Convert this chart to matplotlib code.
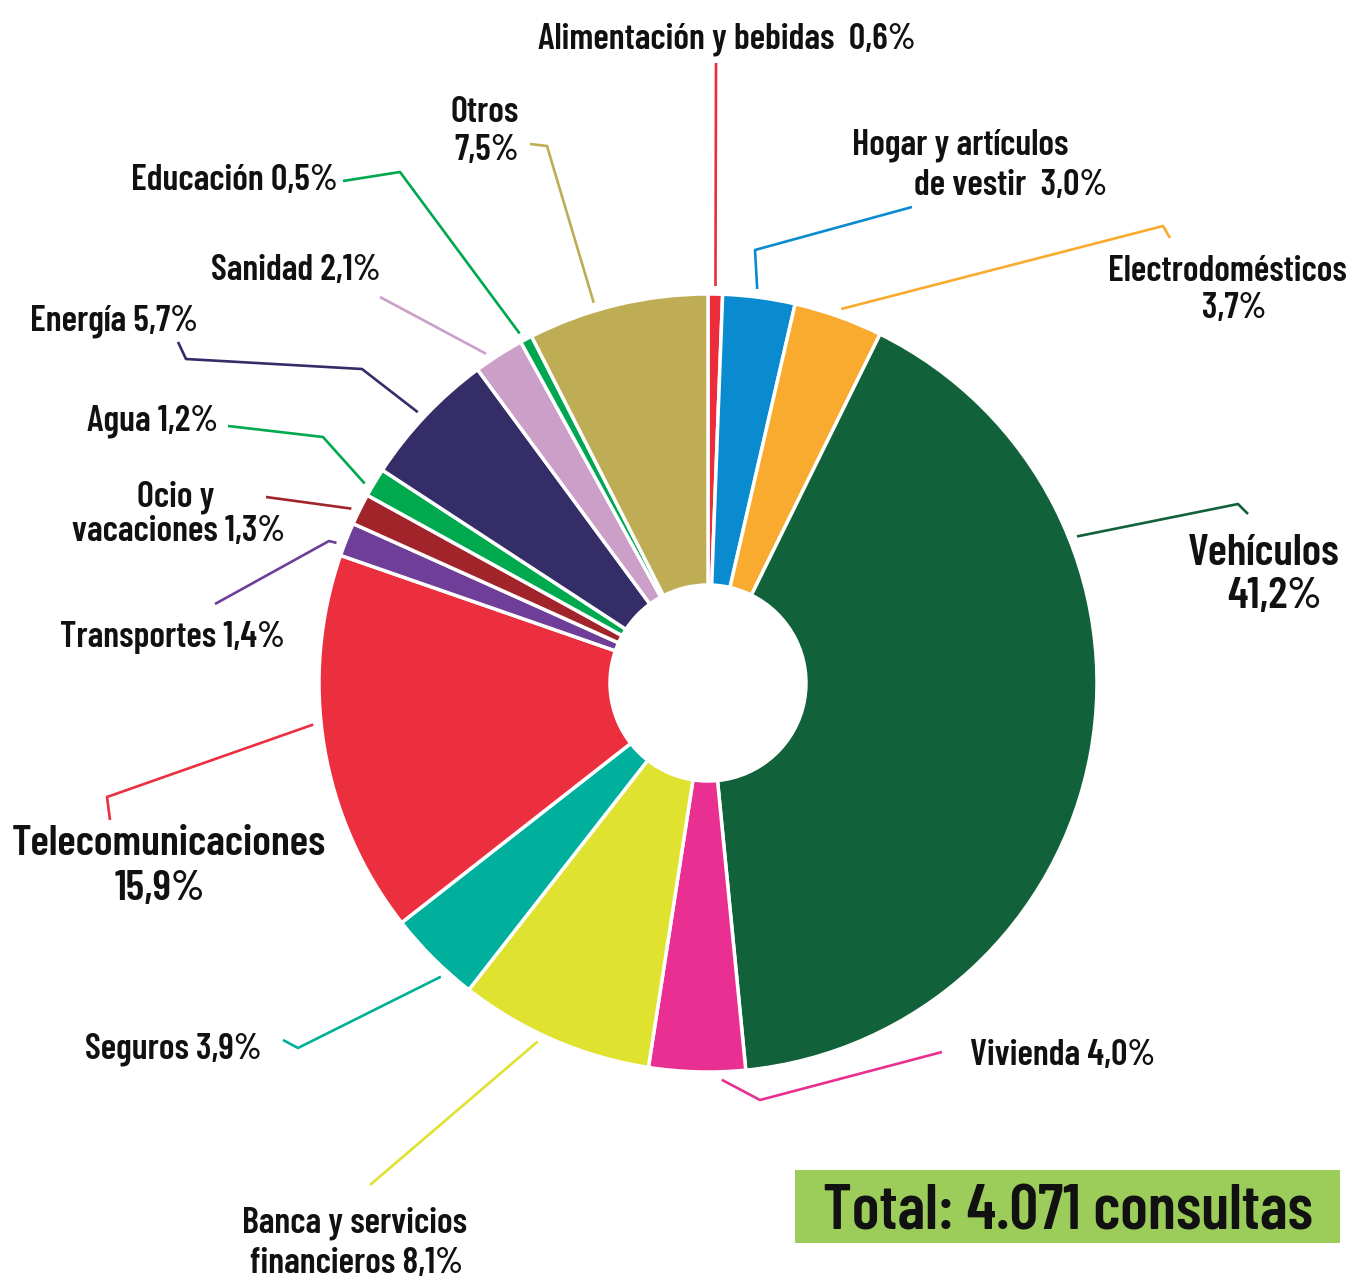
import matplotlib.pyplot as plt
import numpy as np

W, H = 1364, 1280

categorias = ['Alimentación y bebidas', 'Hogar y artículos de vestir', 'Electrodomésticos',
              'Vehículos', 'Vivienda', 'Banca y servicios financieros', 'Seguros',
              'Telecomunicaciones', 'Transportes', 'Ocio y vacaciones', 'Agua',
              'Energía', 'Sanidad', 'Educación', 'Otros']
porcentajes = [0.6, 3.0, 3.7, 41.2, 4.0, 8.1, 3.9, 15.9, 1.4, 1.3, 1.2, 5.7, 2.1, 0.5, 7.5]
total_consultas = '4.071'

colores = ['#ec2b3b', '#0a8bd0', '#f9ab30', '#11613a', '#e92f91', '#e0e230', '#00b09c',
           '#ec2f3f', '#6e3e98', '#a2242b', '#00a84e', '#342d68', '#cc9fc9', '#00a650',
           '#bead55']

# textos de las etiquetas (lineas)
etiquetas = [
    ['Alimentación y bebidas  0,6%'],
    ['Hogar y artículos', 'de vestir  3,0%'],
    ['Electrodomésticos', '3,7%'],
    ['Vehículos', '41,2%'],
    ['Vivienda 4,0%'],
    ['Banca y servicios', 'financieros 8,1%'],
    ['Seguros 3,9%'],
    ['Telecomunicaciones', '15,9%'],
    ['Transportes 1,4%'],
    ['Ocio y', 'vacaciones 1,3%'],
    ['Agua 1,2%'],
    ['Energía 5,7%'],
    ['Sanidad 2,1%'],
    ['Educación 0,5%'],
    ['Otros', '7,5%'],
]

# layout (pixeles): posicion en la cuña, recorrido de la linea, y texto (x, base, ha, tamaño)
anclas = [0.5, 0.46, 0.5, 0.284, 0.25, 0.57, 0.31, 0.56, 0.3, 0.4, 0.3, 0.48, 0.31, 0.25, 0.38]
lineas = [
    [(716, 63)],
    [(755, 250), (912, 207)],
    [(1163, 226), (1170, 238)],
    [(1238, 504), (1248, 514)],
    [(760, 1100), (942, 1052)],
    [(370, 1185)],
    [(298, 1048), (283, 1040)],
    [(107, 797), (110, 820)],
    [(329, 541), (215, 604)],
    [(266, 497)],
    [(323, 437), (228, 426)],
    [(362, 369), (186, 359), (178, 342)],
    [(380, 297)],
    [(400, 172), (343, 181)],
    [(547, 146), (530, 144)],
]
N, G = 26, 31
textos_pos = [
    [(727, 49, 'center', N)],
    [(852, 155, 'left', N), (1107, 195, 'right', N)],
    [(1347, 281, 'right', N), (1234, 318, 'center', N)],
    [(1340, 565, 'right', G + 1), (1322, 608, 'right', G + 1)],
    [(970, 1065, 'left', N)],
    [(355, 1232, 'center', N), (357, 1273, 'center', N)],
    [(262, 1058, 'right', N)],
    [(12, 855, 'left', G), (160, 900, 'center', G)],
    [(285, 647, 'right', N)],
    [(176, 507, 'center', N), (285, 541, 'right', N)],
    [(218, 430, 'right', N)],
    [(198, 330, 'right', N)],
    [(381, 280, 'right', N)],
    [(338, 190, 'right', N)],
    [(519, 122, 'right', N), (519, 160, 'right', N)],
]

fuente = ['Barlow Condensed', 'DejaVu Sans']

cx, cy = 708, H - 683
R, r_in = 389, 98

fig = plt.figure(figsize=(W / 100, H / 100), dpi=100)
ax = fig.add_axes([0, 0, 1, 1])

wedges, _ = ax.pie(porcentajes, colors=colores, startangle=90, counterclock=False,
                   center=(cx, cy), radius=R,
                   wedgeprops=dict(width=R - r_in, edgecolor='white', linewidth=2.5))

for i, w in enumerate(wedges):
    ang = np.deg2rad(w.theta2 - anclas[i] * (w.theta2 - w.theta1))
    x0 = cx + (R + 8) * np.cos(ang)
    y0 = cy + (R + 8) * np.sin(ang)
    xs = [x0] + [p[0] for p in lineas[i]]
    ys = [y0] + [H - p[1] for p in lineas[i]]
    ax.plot(xs, ys, color=colores[i], lw=1.9, solid_capstyle='butt', zorder=1)
    for txt, (tx, ty, ha, fs) in zip(etiquetas[i], textos_pos[i]):
        ax.text(tx, H - ty, txt, ha=ha, va='baseline', fontsize=fs,
                family=fuente, fontweight='semibold', color='#111111')

# caja del total
ax.add_patch(plt.Rectangle((795, H - 1243), 545, 73, facecolor='#9ccc59',
                           edgecolor='none', zorder=2))
ax.text(1068, H - 1230, 'Total: ' + total_consultas + ' consultas', ha='center', va='baseline',
        fontsize=46, family=fuente, fontweight='semibold', color='#111111', zorder=3)

ax.set_xlim(0, W)
ax.set_ylim(0, H)
ax.set_aspect('equal')
ax.axis('off')

fig.savefig('out.png', dpi=100, facecolor='white')
